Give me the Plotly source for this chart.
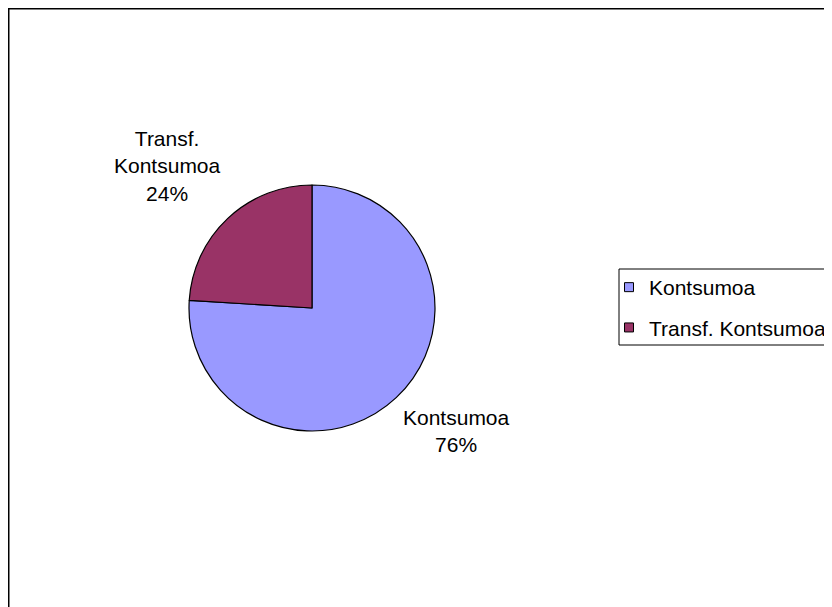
import plotly.graph_objects as go

labels = ["Kontsumoa", "Transf. Kontsumoa"]
values = [76, 24]
colors = ["#9999FF", "#993366"]
label_texts = ["Kontsumoa<br>76%", "Transf.<br>Kontsumoa<br>24%"]

W, H = 824, 599
FONT = "Liberation Sans, Arial, sans-serif"
FS = 21
fig = go.Figure()
fig.add_trace(go.Pie(
    labels=labels, values=values, sort=False, direction="clockwise", rotation=0,
    marker=dict(colors=colors, line=dict(color="black", width=1.2)),
    textinfo="none", hoverinfo="label+percent", showlegend=False,
    domain=dict(x=[181 / W, 427 / W], y=[1 - 423 / H, 1 - 177 / H]),
))

# legend entries (small square swatches like the original)
for i, (lab, col) in enumerate(zip(labels, colors)):
    fig.add_trace(go.Scatter(x=[None], y=[None], mode="markers", name=lab, legendgroup=f"g{i}",
                             marker=dict(symbol="square", size=9, color=col,
                                         line=dict(color="black", width=1))))

# slice labels
fig.add_annotation(x=448 / W, y=1 - 423 / H, xref="paper", yref="paper", text=label_texts[0],
                   xanchor="center", yanchor="middle",
                   showarrow=False, font=dict(family=FONT, size=FS, color="black"))
fig.add_annotation(x=159 / W, y=1 - 158 / H, xref="paper", yref="paper", text=label_texts[1],
                   xanchor="center", yanchor="middle",
                   showarrow=False, font=dict(family=FONT, size=FS, color="black"))

# chart border
fig.add_shape(type="rect", xref="paper", yref="paper", x0=0.5 / W, x1=1.05, y0=-0.05, y1=1 - 0.5 / H,
              line=dict(color="black", width=2))
# legend box
fig.add_shape(type="rect", xref="paper", yref="paper", x0=611 / W, x1=1.05, y0=1 - 337 / H, y1=1 - 261 / H,
              line=dict(color="black", width=1), fillcolor="rgba(0,0,0,0)")

fig.update_layout(
    width=W, height=H, margin=dict(l=0, r=0, t=0, b=0),
    paper_bgcolor="white", plot_bgcolor="white",
    font=dict(family=FONT, size=FS, color="black"),
    xaxis=dict(visible=False), yaxis=dict(visible=False),
    legend=dict(x=601 / W, y=1 - 259 / H, xanchor="left", yanchor="top",
                borderwidth=0, bgcolor="rgba(0,0,0,0)",
                font=dict(size=FS), itemwidth=30, tracegroupgap=10),
    showlegend=True,
)
fig.write_html("out.html")
